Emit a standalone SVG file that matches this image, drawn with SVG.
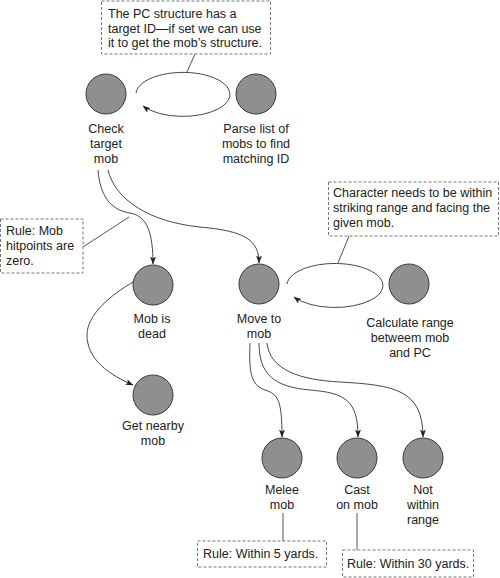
<svg xmlns="http://www.w3.org/2000/svg" width="500" height="578" viewBox="0 0 500 578">
<defs>
<marker id="ah" markerWidth="8" markerHeight="6" refX="7.5" refY="3" orient="auto" markerUnits="userSpaceOnUse">
<path d="M0,0 L8,3 L0,6 L2,3 Z" fill="#222"/>
</marker>
<style>
.node circle{fill:#8f8f8f;stroke:#3a3a3a;stroke-width:1}
text{font-family:"Liberation Sans",Arial,sans-serif;font-size:12.5px;fill:#222}
.lbl{text-anchor:middle}
.note rect{fill:#fff;stroke:#777;stroke-width:1;stroke-dasharray:3,2}
.lead{stroke:#555;stroke-width:1;fill:none}
.conn path{fill:none;stroke:#333;stroke-width:0.9}
</style>
</defs>
<rect width="500" height="578" fill="#fff"/>

<g id="connectors" class="conn">
<path d="M136,93 A47,22 0 1 1 143,106" marker-end="url(#ah)"/>
<path d="M287,284 A48,22 0 1 1 294,297" marker-end="url(#ah)"/>
<path d="M98,170 C100,195 110,210 130,213 C148,216 153,235 153,264" marker-end="url(#ah)"/>
<path d="M108,170 C115,200 150,222 200,227 C245,231 259,240 259,263" marker-end="url(#ah)"/>
<path d="M135,281 C110,295 87,315 87,335 C87,360 110,375 133,385" marker-end="url(#ah)"/>
<path d="M250,343 C249,370 250,385 265,390 C278,394 282,400 282,437" marker-end="url(#ah)"/>
<path d="M259,343 C259,375 275,387 310,390 C345,393 358,400 358,437" marker-end="url(#ah)"/>
<path d="M267,343 C270,370 300,380 340,382 C395,385 423,390 423,437" marker-end="url(#ah)"/>
</g>

<g id="note-pc" class="note">
<line class="lead" x1="195" y1="54" x2="187" y2="72"/>
<rect x="101.5" y="1" width="169" height="53"/>
<text x="108" y="18">The PC structure has a</text>
<text x="108" y="32.5">target ID—if set we can use</text>
<text x="108" y="47">it to get the mob’s structure.</text>
</g>

<g id="note-range" class="note">
<line class="lead" x1="349" y1="236" x2="338" y2="263"/>
<rect x="328.5" y="182" width="170" height="54"/>
<text x="333" y="197">Character needs to be within</text>
<text x="333" y="212">striking range and facing the</text>
<text x="333" y="227">given mob.</text>
</g>

<g id="note-dead" class="note">
<line class="lead" x1="83" y1="247" x2="129" y2="217"/>
<rect x="0.5" y="219" width="82.5" height="54"/>
<text x="6" y="235">Rule: Mob</text>
<text x="6" y="250">hitpoints are</text>
<text x="6" y="265">zero.</text>
</g>

<g id="note-melee" class="note">
<line class="lead" x1="283" y1="513" x2="283" y2="541"/>
<rect x="197.5" y="541" width="129" height="26"/>
<text x="203" y="558">Rule: Within 5 yards.</text>
</g>

<g id="note-cast" class="note">
<line class="lead" x1="357" y1="513" x2="357" y2="550"/>
<rect x="342.5" y="550" width="131" height="27"/>
<text x="347" y="568">Rule: Within 30 yards.</text>
</g>

<g id="check-target" class="node">
<circle cx="106" cy="94" r="20"/>
<text class="lbl" x="106" y="133">Check</text>
<text class="lbl" x="106" y="148">target</text>
<text class="lbl" x="106" y="163">mob</text>
</g>

<g id="parse-list" class="node">
<circle cx="256" cy="94" r="20"/>
<text class="lbl" x="256" y="133">Parse list of</text>
<text class="lbl" x="256" y="148">mobs to find</text>
<text class="lbl" x="256" y="163">matching ID</text>
</g>

<g id="mob-dead" class="node">
<circle cx="153" cy="285" r="20"/>
<text class="lbl" x="152" y="323">Mob is</text>
<text class="lbl" x="152" y="338">dead</text>
</g>

<g id="move-to-mob" class="node">
<circle cx="259" cy="284" r="20"/>
<text class="lbl" x="259" y="323">Move to</text>
<text class="lbl" x="259" y="338">mob</text>
</g>

<g id="calc-range" class="node">
<circle cx="409" cy="284" r="20"/>
<text class="lbl" x="410" y="327">Calculate range</text>
<text class="lbl" x="410" y="342">betweem mob</text>
<text class="lbl" x="410" y="357">and PC</text>
</g>

<g id="get-nearby" class="node">
<circle cx="153" cy="395" r="20"/>
<text class="lbl" x="153" y="430">Get nearby</text>
<text class="lbl" x="153" y="445">mob</text>
</g>

<g id="melee" class="node">
<circle cx="282" cy="458" r="20"/>
<text class="lbl" x="282" y="494">Melee</text>
<text class="lbl" x="282" y="509">mob</text>
</g>

<g id="cast" class="node">
<circle cx="357" cy="458" r="20"/>
<text class="lbl" x="357" y="494">Cast</text>
<text class="lbl" x="357" y="509">on mob</text>
</g>

<g id="not-within" class="node">
<circle cx="423" cy="458" r="20"/>
<text class="lbl" x="423" y="494">Not</text>
<text class="lbl" x="423" y="509">within</text>
<text class="lbl" x="423" y="524">range</text>
</g>
</svg>
